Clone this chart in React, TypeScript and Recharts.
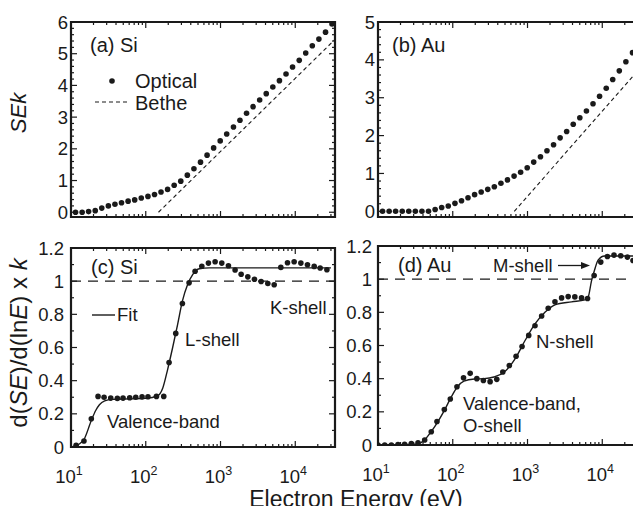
import {
  ComposedChart,
  Scatter,
  Line,
  XAxis,
  YAxis,
  ReferenceLine,
  ReferenceArea,
} from "recharts";

const FONT = "'Liberation Sans', Arial, Helvetica, sans-serif";
const INK = "#1a1a1a";

// electron energies (eV) of the optical points in (a) and (b)
const energyTop = [
  11.5, 14.1, 17.2, 21.1, 25.8, 31.6, 38.7, 47.4, 58.1, 71.1, 87.1, 107, 131,
  160, 196, 240, 294, 360, 441, 540, 661, 809, 991, 1210, 1490, 1820, 2230,
  2730, 3340, 4090, 5010, 6140, 7520, 9200, 11300, 13800, 16900, 20700, 25400,
  31000,
];
const sekSi = [
  0.0, 0.0, 0.02, 0.05, 0.13, 0.2, 0.25, 0.3, 0.35, 0.39, 0.45, 0.5, 0.56,
  0.64, 0.72, 0.85, 0.98, 1.17, 1.37, 1.58, 1.8, 2.03, 2.25, 2.47, 2.69, 2.9,
  3.12, 3.33, 3.54, 3.74, 3.95, 4.15, 4.36, 4.58, 4.79, 5.02, 5.25, 5.46, 5.68,
  5.94,
];
const sekAu = [
  0, 0, 0, 0, 0, 0, 0, 0, 0.05, 0.1, 0.14, 0.21, 0.28, 0.36, 0.44, 0.51, 0.58,
  0.65, 0.74, 0.83, 0.93, 1.03, 1.15, 1.3, 1.44, 1.6, 1.76, 1.94, 2.11, 2.3,
  2.47, 2.65, 2.84, 3.04, 3.25, 3.48, 3.71, 3.95, 4.19, 4.41,
];
// Bethe asymptotes (end points of the straight line on the log axis)
const betheSiE = [148, 34000];
const betheSiV = [0, 5.45];
const betheAuE = [665, 34000];
const betheAuV = [0, 3.84];

// (c) Si derivative
const derivSiE = [
  11.7, 14.9, 18.7, 23, 27.7, 34, 41.7, 49.7, 61, 73.5, 89.2, 107, 139, 174,
  205, 252, 309, 380, 457, 562, 689, 847, 1040, 1276, 1567, 1888, 2318, 2844,
  3493, 4295, 5222, 6412, 7870, 9661, 11880, 14560, 17900, 21530, 26490,
];
const derivSiV = [
  0.01, 0.036, 0.17, 0.305, 0.3, 0.295, 0.293, 0.295, 0.297, 0.3, 0.302, 0.303,
  0.305, 0.305, 0.51, 0.685, 0.865, 0.99, 1.06, 1.09, 1.109, 1.117, 1.109,
  1.093, 1.067, 1.042, 1.026, 1.012, 0.998, 0.986, 0.978, 1.083, 1.111, 1.117,
  1.109, 1.099, 1.089, 1.079, 1.069,
];
const fitSiE = [
  10, 12.6, 14.9, 18.7, 21.4, 24, 28.2, 35.5, 63, 100, 145, 169, 196, 229, 267,
  309, 363, 424, 520, 708, 30000,
];
const fitSiV = [
  0, 0.015, 0.045, 0.16, 0.22, 0.255, 0.278, 0.287, 0.29, 0.293, 0.31, 0.356,
  0.467, 0.6, 0.74, 0.88, 0.98, 1.04, 1.075, 1.08, 1.08,
];

// (d) Au derivative
const derivAuE = [
  10, 12.3, 15.1, 18.5, 22.7, 27.9, 34.3, 42.1, 51.6, 61.5, 77.1, 92.7, 113.8,
  139.3, 171, 210, 257, 316, 388, 467, 571, 703, 845, 1038, 1259, 1545, 1892,
  2328, 2858, 3499, 4295, 5284, 6353, 7780, 9550, 11720, 14350, 17660, 21680,
  25760,
];
const derivAuV = [
  0, 0, 0, 0.002, 0.004, 0.008, 0.014, 0.03, 0.08, 0.142, 0.214, 0.277, 0.351,
  0.405, 0.432, 0.4, 0.389, 0.382, 0.396, 0.44, 0.479, 0.535, 0.594, 0.661,
  0.719, 0.778, 0.825, 0.864, 0.887, 0.895, 0.893, 0.887, 0.883, 1.022, 1.103,
  1.137, 1.145, 1.141, 1.133, 1.113,
];
const fitAuE = [
  10, 25.1, 33.9, 41.7, 51.3, 63.1, 77.6, 95.5, 115, 141, 195, 263, 355, 490,
  681, 927, 1259, 1710, 2328, 3890, 5848, 6457, 7178, 7943, 8790, 10715, 30000,
];
const fitAuV = [
  0, 0.003, 0.006, 0.03, 0.08, 0.14, 0.21, 0.29, 0.35, 0.385, 0.398, 0.4, 0.41,
  0.44, 0.52, 0.63, 0.73, 0.8, 0.845, 0.863, 0.875, 0.89, 0.99, 1.06, 1.115,
  1.14, 1.14,
];

// ticks
const xMajors = [10, 100, 1000, 10000];
const X_MAX = 34000;
const sekMajors = [0, 1, 2, 3, 4, 5, 6];
const derivMajors = [0, 0.2, 0.4, 0.6, 0.8, 1, 1.2];
const derivLabels = ["0", "0.2", "0.4", "0.6", "0.8", "1", "1.2"];

const xTicks = xMajors
  .flatMap((d) => [1, 2, 3, 4, 5, 6, 7, 8, 9].map((m) => m * d))
  .filter((v) => v <= X_MAX);
const stepTicks = (max: number, step: number) => {
  const out: number[] = [];
  for (let i = 0; i * step <= max + 1e-9; i++) out.push(Math.round(i * step * 100) / 100);
  return out;
};

const zip = (e: number[], v: number[]) => e.map((x, i) => ({ e: x, v: v[i] }));

function XTick(props: any) {
  const { x, y, payload, top, labels } = props;
  const v = payload.value;
  const ex = Math.log10(v);
  const major = Math.abs(ex - Math.round(ex)) < 1e-6;
  const len = major ? 6 : 3;
  return (
    <g>
      <line x1={x} x2={x} y1={y} y2={y - len} stroke={INK} strokeWidth={1.2} />
      <line x1={x} x2={x} y1={top} y2={top + len} stroke={INK} strokeWidth={1.2} />
      {labels && major && (
        <text x={x - 2} y={y + 36} textAnchor="middle" fontFamily={FONT} fontSize={18.5} fill={INK}>
          10
          <tspan dy={-8} fontSize={12.5}>
            {Math.round(ex)}
          </tspan>
        </text>
      )}
    </g>
  );
}

function YTick(props: any) {
  const { x, y, payload, right, majors, labels, gap } = props;
  const v = payload.value;
  const idx = majors.findIndex((m: number) => Math.abs(m - v) < 1e-6);
  const len = idx >= 0 ? 6 : 3;
  return (
    <g>
      <line x1={x} x2={x + len} y1={y} y2={y} stroke={INK} strokeWidth={1.2} />
      <line x1={right} x2={right - len} y1={y} y2={y} stroke={INK} strokeWidth={1.2} />
      {idx >= 0 && (
        <text x={x - gap} y={y + 6.5} textAnchor="end" fontFamily={FONT} fontSize={18.5} fill={INK}>
          {labels[idx]}
        </text>
      )}
    </g>
  );
}

const dotShape = (p: any) => <circle cx={p.cx} cy={p.cy} r={2.8} fill={INK} />;

type PanelProps = {
  left: number;
  top: number;
  width: number;
  height: number;
  yAxisW: number;
  xAxisH: number;
  mTop: number;
  mRight: number;
  yMin: number;
  yMax: number;
  yTicks: number[];
  majors: number[];
  labels: string[];
  gap: number;
  xLabels: boolean;
  dots: { e: number; v: number }[];
  curve: { e: number; v: number }[];
  dashed?: boolean;
  unity?: boolean;
};

function Panel(p: PanelProps) {
  const plotRight = p.width - p.mRight;
  return (
    <div style={{ position: "absolute", left: p.left, top: p.top }}>
      <ComposedChart
        width={p.width}
        height={p.height}
        margin={{ top: p.mTop, right: p.mRight, bottom: 0, left: 0 }}
      >
        <XAxis
          dataKey="e"
          type="number"
          scale="log"
          domain={[10, X_MAX]}
          allowDataOverflow
          ticks={xTicks}
          interval={0}
          height={p.xAxisH}
          axisLine={false}
          tickLine={false}
          tickSize={0}
          tickMargin={0}
          tick={(t: any) => <XTick {...t} top={p.mTop} labels={p.xLabels} />}
        />
        <YAxis
          type="number"
          domain={[p.yMin, p.yMax]}
          allowDataOverflow
          ticks={p.yTicks}
          interval={0}
          width={p.yAxisW}
          axisLine={false}
          tickLine={false}
          tickSize={0}
          tickMargin={0}
          tick={(t: any) => (
            <YTick {...t} right={plotRight} majors={p.majors} labels={p.labels} gap={p.gap} />
          )}
        />
        {p.unity && (
          <ReferenceLine y={1} stroke={INK} strokeWidth={1.2} strokeDasharray="10 7" />
        )}
        <Line
          data={p.curve}
          dataKey="v"
          type={p.dashed ? "linear" : "monotone"}
          stroke={INK}
          strokeWidth={p.dashed ? 1.1 : 1.4}
          strokeDasharray={p.dashed ? "4 3" : undefined}
          dot={false}
          activeDot={false}
          isAnimationActive={false}
        />
        <Scatter data={p.dots} dataKey="v" shape={dotShape} isAnimationActive={false} />
        <ReferenceArea
          x1={10}
          x2={X_MAX}
          y1={p.yMin}
          y2={p.yMax}
          fill="none"
          stroke={INK}
          strokeWidth={2.2}
          ifOverflow="visible"
        />
      </ComposedChart>
    </div>
  );
}

const txt = { fontFamily: FONT, fill: INK } as const;

export default function App() {
  const sekTicks = stepTicks(6, 0.2);
  const sekTicksAu = stepTicks(5, 0.2);
  const derivTicks = stepTicks(1.2, 0.1);
  const sekLabels = sekMajors.map(String);
  return (
    <div
      style={{
        position: "relative",
        width: 641,
        height: 514,
        margin: -8,
        overflow: "hidden",
        background: "#fff",
      }}
    >
      <Panel
        left={0} top={0} width={345} height={240} yAxisW={71} xAxisH={23} mTop={22} mRight={10}
        yMin={-0.15} yMax={6} yTicks={sekTicks} majors={sekMajors} labels={sekLabels} gap={3}
        xLabels={false} dots={zip(energyTop, sekSi)} curve={zip(betheSiE, betheSiV)} dashed
      />
      <Panel
        left={320} top={0} width={330} height={240} yAxisW={58} xAxisH={23} mTop={22} mRight={8}
        yMin={-0.15} yMax={5} yTicks={sekTicksAu} majors={sekMajors} labels={sekLabels} gap={3}
        xLabels={false} dots={zip(energyTop, sekAu)} curve={zip(betheAuE, betheAuV)} dashed
      />
      <Panel
        left={0} top={225} width={345} height={289} yAxisW={71} xAxisH={67} mTop={23} mRight={10}
        yMin={0} yMax={1.2} yTicks={derivTicks} majors={derivMajors} labels={derivLabels} gap={7}
        xLabels dots={zip(derivSiE, derivSiV)} curve={zip(fitSiE, fitSiV)} unity
      />
      <Panel
        left={320} top={223} width={330} height={289} yAxisW={58} xAxisH={67} mTop={23} mRight={8}
        yMin={0} yMax={1.2} yTicks={derivTicks} majors={derivMajors} labels={derivLabels} gap={6}
        xLabels dots={zip(derivAuE, derivAuV)} curve={zip(fitAuE, fitAuV)} unity
      />
      <svg
        width={641}
        height={514}
        style={{ position: "absolute", left: 0, top: 0, pointerEvents: "none" }}
      >
        {/* panel annotations */}
        <text x={90} y={51.5} fontSize={20} {...txt}>(a) Si</text>
        <circle cx={112} cy={81} r={2.8} fill={INK} />
        <text x={135} y={87.5} fontSize={20} {...txt}>Optical</text>
        <line x1={95} x2={127} y1={102} y2={102} stroke={INK} strokeWidth={1.1} strokeDasharray="4 3" />
        <text x={135} y={110} fontSize={20} {...txt}>Bethe</text>
        <text x={392} y={51.5} fontSize={20} {...txt}>(b) Au</text>

        <text x={91} y={274} fontSize={20} {...txt}>(c) Si</text>
        <line x1={92} x2={115} y1={315} y2={315} stroke={INK} strokeWidth={1.4} />
        <text x={117} y={321} fontSize={18.5} {...txt}>Fit</text>
        <text x={185} y={346} fontSize={18.5} {...txt}>L-shell</text>
        <text x={270} y={314} fontSize={18.5} {...txt}>K-shell</text>
        <text x={107} y={428} fontSize={18.5} {...txt}>Valence-band</text>

        <text x={398} y={272} fontSize={20} {...txt}>(d) Au</text>
        <text x={493} y={271.5} fontSize={18.5} {...txt}>M-shell</text>
        <line x1={558} x2={583} y1={265.5} y2={265.5} stroke={INK} strokeWidth={1.3} />
        <polygon points="590,265.5 581,262 581,269" fill={INK} />
        <text x={536} y={348} fontSize={18.5} {...txt}>N-shell</text>
        <text x={463} y={410} fontSize={18.5} {...txt}>Valence-band,</text>
        <text x={463} y={432} fontSize={18.5} {...txt}>O-shell</text>

        {/* axis titles */}
        <text transform="translate(25.5,113) rotate(-90)" textAnchor="middle" fontSize={22} {...txt}>
          <tspan fontStyle="italic">SEk</tspan>
        </text>
        <text transform="translate(27,343) rotate(-90)" textAnchor="middle" fontSize={24} {...txt}>
          d(<tspan fontStyle="italic">SE</tspan>)/d(ln<tspan fontStyle="italic">E</tspan>) x{" "}
          <tspan fontStyle="italic">k</tspan>
        </text>
        <text x={356} y={507} textAnchor="middle" fontSize={23} {...txt}>
          Electron Energy (eV)
        </text>
      </svg>
    </div>
  );
}
